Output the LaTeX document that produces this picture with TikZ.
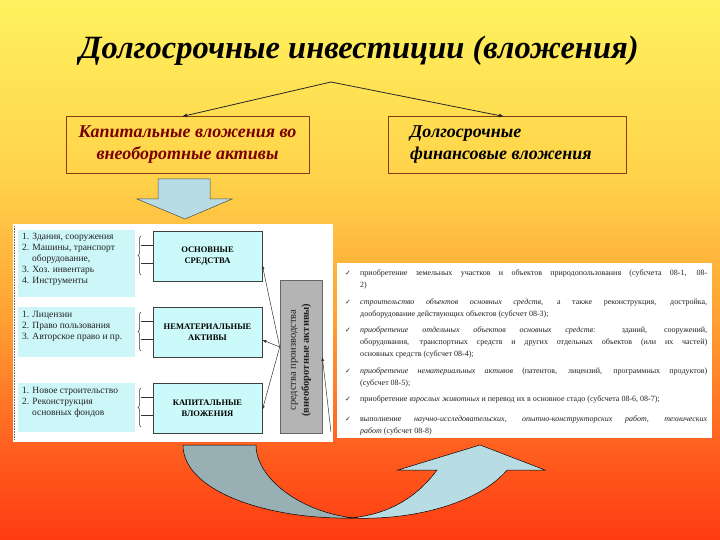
\documentclass[tikz,border=0pt]{standalone}
\usepackage{fontspec}
\setmainfont{Liberation Serif}
\newfontfamily\symfont{DejaVu Sans}
\usetikzlibrary{arrows.meta,decorations.pathreplacing}
\definecolor{bgA}{HTML}{FFF25E}
\definecolor{bgB}{HTML}{FFD24A}
\definecolor{bgC}{HTML}{FFA032}
\definecolor{bgD}{HTML}{FF5A1E}
\definecolor{bgE}{HTML}{FF3C12}
\definecolor{boxline}{HTML}{8A3A10}
\definecolor{darkred}{HTML}{7A0000}
\definecolor{listc}{HTML}{CCF6F8}
\definecolor{cyanbox}{HTML}{CCFAFA}
\definecolor{grayb}{HTML}{B4B4B4}
\definecolor{arrdark}{HTML}{98AFB4}
\definecolor{arrlight}{HTML}{B8DCE4}
\definecolor{txt}{HTML}{222222}
\tikzset{
  topbox/.style={draw=boxline, line width=0.6pt, minimum width=#1, minimum height=57pt, inner sep=0pt},
  listbg/.style={fill=listc, draw=none},
  catbox/.style={draw=black!75, fill=cyanbox, line width=0.6pt, minimum width=109pt, minimum height=50pt, align=center, font=\fontsize{8.5}{11}\selectfont\bfseries},
  listtext/.style={anchor=north west, align=left, inner sep=0pt, font=\fontsize{9.5}{11}\selectfont, text=txt},
  smallarr/.style={-{Latex[length=4pt,width=3pt]}, line width=0.5pt, black!80},
  toparr/.style={-{Latex[length=5pt,width=4pt]}, line width=0.8pt, black!85},
  brc/.style={decorate, decoration={brace, amplitude=3pt}, line width=0.5pt, black!80},
  tick/.style={line width=0.5pt, black!80}
}
\newcommand{\ckm}{\makebox[15pt][l]{\symfont\fontsize{7}{8}\selectfont ✓}}
\newcommand{\itm}[1]{\noindent\ckm\parbox[t]{347pt}{\fontsize{8}{12}\selectfont\tolerance=9999\hbadness=10000 #1}\par\vspace{8pt}}
\begin{document}
\begin{tikzpicture}[x=1pt,y=-1pt]
\useasboundingbox (0,0) rectangle (720,540);
% background gradient
\shade[top color=bgA, bottom color=bgB] (0,0) rectangle (720,180);
\shade[top color=bgB, bottom color=bgC] (0,179.5) rectangle (720,320);
\shade[top color=bgC, bottom color=bgD] (0,319.5) rectangle (720,460);
\shade[top color=bgD, bottom color=bgE] (0,459.5) rectangle (720,540);

% title
\node[font=\fontsize{32.5}{34}\selectfont\bfseries\itshape, text=black] (title) at (359,51) {Долгосрочные инвестиции (вложения)};
\coordinate (apex) at (331,82);

% top boxes
\node[topbox=243pt, align=center, text=darkred, font=\fontsize{18}{22}\selectfont\bfseries\itshape] (kap) at (187.5,144.5) {Капитальные вложения во\\внеоборотные активы};
\node[topbox=238pt] (fin) at (507,144.5) {};
\node[anchor=west, align=left, font=\fontsize{18}{22}\selectfont\bfseries\itshape, inner sep=0pt] (fintext) at (410,144.5) {Долгосрочные\\финансовые вложения};
\coordinate (kapT) at (182,116.5);
\coordinate (finT) at (504,116.5);
\draw[toparr] (apex) -- (kapT);
\draw[toparr] (apex) -- (finT);

% down block arrow
\draw[fill=arrlight, draw=black!70, line width=0.5pt] (158,179) -- (210,179) -- (210,199) -- (232,199) -- (185,219) -- (137,199) -- (158,199) -- cycle;

% left picture panel
\fill[white] (13,224) rectangle (333,442);
\draw[black!60, densely dotted, line width=0.6pt] (14,226) -- (14,440);
\fill[listbg] (18,230) rectangle (135,297);
\fill[listbg] (18,307) rectangle (135,357);
\fill[listbg] (18,383) rectangle (135,432);
\node[listtext] (l1) at (22,233) {1. Здания, сооружения\\2. Машины, транспорт\\\hspace*{10pt}оборудование,\\3. Хоз. инвентарь\\4. Инструменты};
\node[listtext] (l2) at (22,311) {1. Лицензии\\2. Право пользования\\3. Авторское право и пр.};
\node[listtext] (l3) at (22,387) {1. Новое строительство\\2. Реконструкция\\\hspace*{10pt}основных фондов};

\node[catbox] (os) at (207.5,256) {ОСНОВНЫЕ\\СРЕДСТВА};
\node[catbox] (na) at (207.5,332) {НЕМАТЕРИАЛЬНЫЕ\\АКТИВЫ};
\node[catbox] (kv) at (207.5,408) {КАПИТАЛЬНЫЕ\\ВЛОЖЕНИЯ};
\node[draw=black!60, fill=grayb, line width=0.6pt, minimum width=42pt, minimum height=153pt, inner sep=0pt] (gr) at (301,356.5) {};
\node[rotate=90, align=center, font=\fontsize{10.5}{13}\selectfont, text=txt] (grt) at (301,360) {средства производства\\\textbf{(внеоборотные активы)}};

% braces
\foreach \n/\t in {os/231, na/307, kv/383}{
  \draw[tick] (\n.west |- 0,\t+14) -- (141,\t+14);
  \draw[tick] (\n.west |- 0,\t+32) -- (141,\t+32);
  \draw[brc] (141,\t+44) -- (141,\t+5);
}
% arrows from gray box
\coordinate (g) at (gr.west |- 0,347);
\draw[smallarr] (g) -- (os.east |- 0,265);
\draw[smallarr] (g) -- (na.east |- 0,340);
\draw[smallarr] (g) -- (kv.east |- 0,410);
\coordinate (gb) at (331,432);
\draw[smallarr] (gb) -- (gr.east |- 0,357);

% right panel
\fill[white] (337,263) rectangle (712,438);
\node[anchor=north west, inner sep=0pt, text=txt] (lst) at (345,270) {\parbox{362pt}{%
\itm{приобретение земельных участков и объектов природопользования (субсчета 08-1, 08-\linebreak 2)}
\itm{\textit{строительство объектов основных средств}, а также реконструкция, достройка,\linebreak дооборудование действующих объектов (субсчет 08-3);}
\itm{\textit{приобретение отдельных объектов основных средств}: зданий, сооружений,\linebreak оборудования, транспортных средств и других отдельных объектов (или их частей)\linebreak основных средств (субсчет 08-4);}
\itm{\textit{приобретение нематериальных активов} (патентов, лицензий, программных продуктов)\linebreak (субсчет 08-5);}
\itm{приобретение \textit{взрослых животных} и перевод их в основное стадо (субсчета 08-6, 08-7);}
\itm{выполнение \textit{научно-исследовательских, опытно-конструкторских работ, технических}\linebreak \textit{работ} (субсчет 08-8)}
}};

% curved U-turn arrow
\draw[fill=arrdark, draw=black, line width=0.5pt] (183,445) -- (256,445) .. controls (256,478) and (300,512) .. (354,518) .. controls (270,520) and (183,492) .. (183,445) -- cycle;
\draw[fill=arrlight, draw=black, line width=0.5pt] (350,518) .. controls (420,521) and (482,500) .. (507,470) -- (545,470) -- (480,445) -- (398,470) -- (437,470) .. controls (415,500) and (385,515) .. (350,518) -- cycle;
\end{tikzpicture}
\end{document}
